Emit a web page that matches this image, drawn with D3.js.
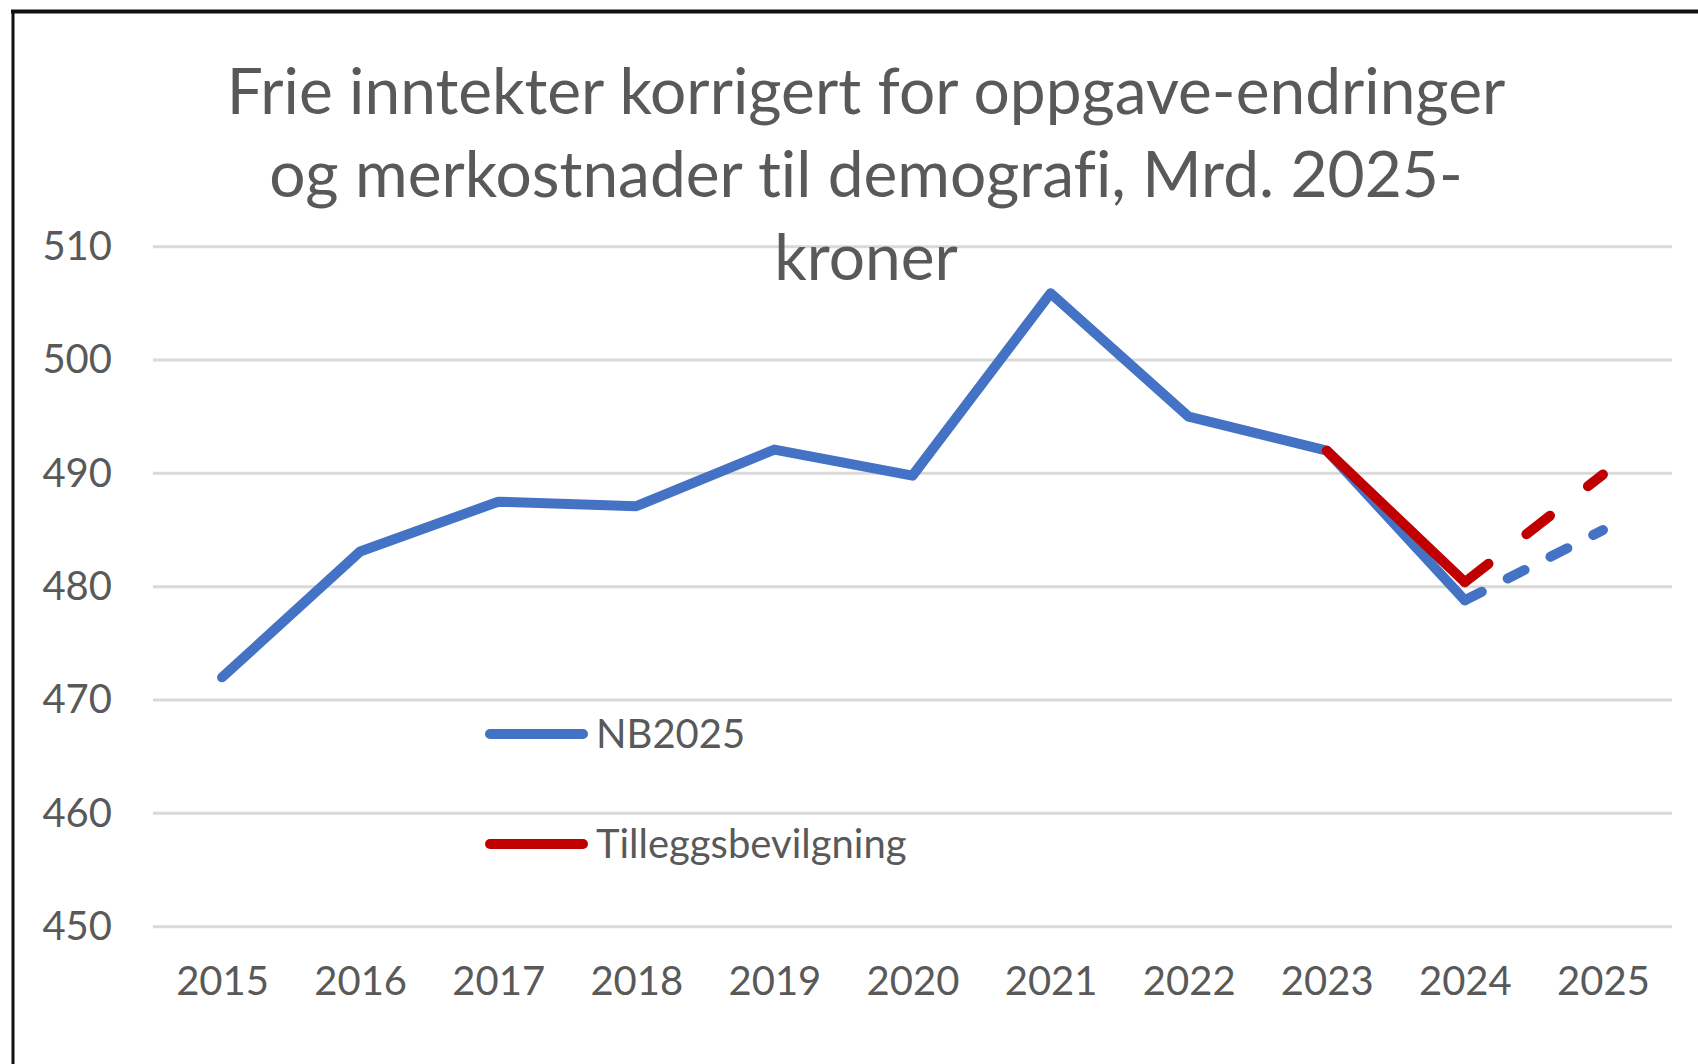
<!DOCTYPE html>
<html lang="no">
<head>
    <meta charset="UTF-8">
    <title>Frie inntekter</title>
    <style>
        html, body { margin: 0; padding: 0; background: #fff; }
        svg { display: block; }
        text { font-family: Lato, "Open Sans", sans-serif; fill: #595959; font-variant-ligatures: none; }
    </style>
</head>
<body>
    <div id="chart"></div>
    <script src="https://d3js.org/d3.v7.min.js"></script>
    <script>
        // data
        var years = ["2015", "2016", "2017", "2018", "2019", "2020", "2021", "2022", "2023", "2024", "2025"];
        var nb2025 = [472.0, 483.1, 487.5, 487.1, 492.1, 489.8, 505.9, 495.0, 492.0, 478.8, 485.0];
        var tilleggsbevilgning = [null, null, null, null, null, null, null, null, 492.0, 480.4, 489.9];
        var yTicks = [450, 460, 470, 480, 490, 500, 510];
        var seriesNames = ["NB2025", "Tilleggsbevilgning"];
        var titleLines = ["Frie inntekter korrigert for oppgave-endringer",
                          "og merkostnader til demografi, Mrd. 2025-",
                          "kroner"];
        var dashFrom = "2024"; // projected part is drawn dashed

        var width = 1698, height = 1064;
        var plot = { left: 153, right: 1672, top: 246.7, bottom: 926.7 };

        var svg = d3.select("#chart").append("svg")
            .attr("width", width)
            .attr("height", height);

        // frame
        svg.append("rect").attr("x", 0).attr("y", 0).attr("width", width).attr("height", height).attr("fill", "#fff");
        svg.append("line").attr("x1", 11).attr("x2", width).attr("y1", 11.5).attr("y2", 11.5)
            .attr("stroke", "#111").attr("stroke-width", 4);
        svg.append("line").attr("x1", 13).attr("x2", 13).attr("y1", 10).attr("y2", height)
            .attr("stroke", "#111").attr("stroke-width", 3);

        var x = d3.scalePoint().domain(years).range([plot.left, plot.right]).padding(0.5);
        var y = d3.scaleLinear().domain([450, 510]).range([plot.bottom, plot.top]);

        // gridlines
        svg.append("g").selectAll("line")
            .data(yTicks)
            .enter()
            .append("line")
            .attr("x1", plot.left)
            .attr("x2", plot.right)
            .attr("y1", function(d) { return y(d); })
            .attr("y2", function(d) { return y(d); })
            .attr("stroke", "#d9d9d9")
            .attr("stroke-width", 3);

        // y axis labels
        var yAxis = d3.axisLeft(y).tickValues(yTicks).tickSize(0).tickPadding(0);
        var gy = svg.append("g").attr("transform", "translate(112,0)").call(yAxis);
        gy.select(".domain").remove();
        gy.selectAll("text")
            .style("font-size", "40px")
            .style("font-family", "Lato, sans-serif")
            .attr("fill", "#595959");

        // x axis labels
        var xAxis = d3.axisBottom(x).tickSize(0).tickPadding(0);
        var gx = svg.append("g").attr("transform", "translate(0,967)").call(xAxis);
        gx.select(".domain").remove();
        gx.selectAll("text")
            .style("font-size", "40px")
            .style("font-family", "Lato, sans-serif")
            .attr("fill", "#595959");

        // title
        svg.append("g").selectAll("text")
            .data(titleLines)
            .enter()
            .append("text")
            .attr("x", 866)
            .attr("y", function(d, i) { return 114 + i * 83; })
            .attr("text-anchor", "middle")
            .style("font-size", "64px")
            .text(function(d) { return d; });

        var line = d3.line()
            .defined(function(d) { return d.v != null; })
            .x(function(d) { return x(d.year); })
            .y(function(d) { return y(d.v); });

        var cut = years.indexOf(dashFrom);

        function drawSeries(values, color, dash) {
            var pts = years.map(function(yr, i) { return { year: yr, v: values[i] }; });
            var solid = pts.filter(function(d, i) { return i <= cut && d.v != null; });
            var dashed = pts.filter(function(d, i) { return i >= cut && d.v != null; });
            svg.append("path")
                .datum(solid)
                .attr("d", line)
                .attr("fill", "none")
                .attr("stroke", color)
                .attr("stroke-width", 10)
                .attr("stroke-linejoin", "round")
                .attr("stroke-linecap", "round");
            svg.append("path")
                .datum(dashed)
                .attr("d", line)
                .attr("fill", "none")
                .attr("stroke", color)
                .attr("stroke-width", 10)
                .attr("stroke-dasharray", dash)
                .attr("stroke-linecap", "round");
        }

        drawSeries(nb2025, "#4472c4", "19,29");
        drawSeries(tilleggsbevilgning, "#c00000", "30,48");

        // legend
        var colors = ["#4472c4", "#c00000"];
        var legend = svg.append("g").selectAll("g")
            .data(seriesNames)
            .enter()
            .append("g")
            .attr("transform", function(d, i) { return "translate(0," + (734 + i * 110) + ")"; });
        legend.append("line")
            .attr("x1", 490).attr("x2", 583)
            .attr("stroke", function(d, i) { return colors[i]; })
            .attr("stroke-width", 10)
            .attr("stroke-linecap", "round");
        legend.append("text")
            .attr("x", 596)
            .attr("dy", "0.35em")
            .style("font-size", "40px")
            .text(function(d) { return d; });
    </script>
</body>
</html>
